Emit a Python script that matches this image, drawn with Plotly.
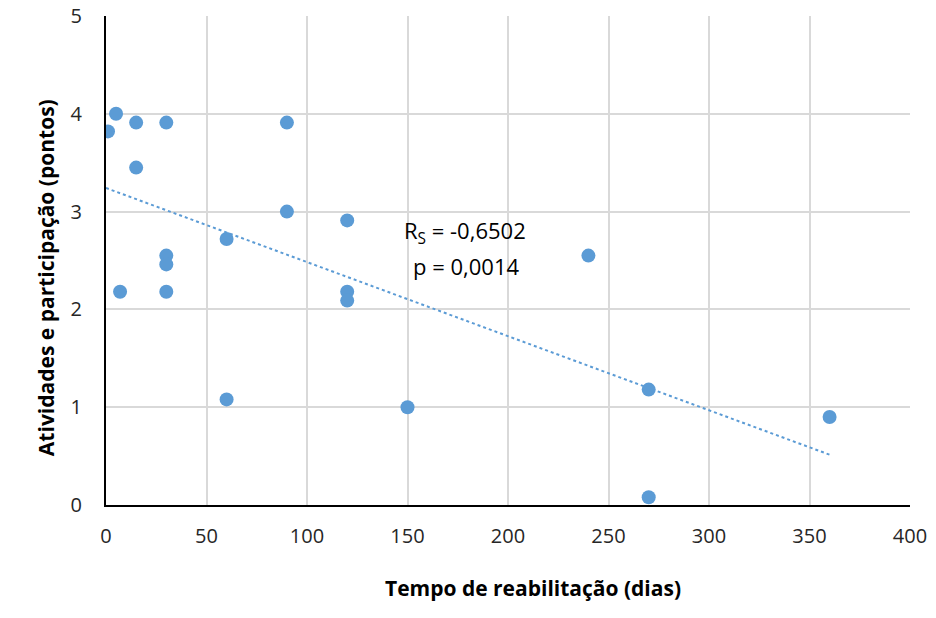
import numpy as np
import plotly.graph_objects as go

dias = [1, 5, 15, 30, 90, 15, 30, 30, 30, 7, 60, 90, 120, 120, 120, 60, 150, 240, 270, 270, 360]
pontos = [3.82, 4.0, 3.91, 3.91, 3.91, 3.45, 2.55, 2.46, 2.18, 2.18, 2.72, 3.0, 2.91, 2.18, 2.09, 1.08, 1.0, 2.55, 1.18, 0.08, 0.9]

x_title = "Tempo de reabilitação (dias)"
y_title = "Atividades e participação (pontos)"
stat_lines = ["R<sub>S</sub> = -0,6502", "p = 0,0014"]

slope, intercept = np.polyfit(dias, pontos, 1)
tx = [0, 360]
ty = [intercept + slope * v for v in tx]

font = "Open Sans, Liberation Sans, sans-serif"

fig = go.Figure()
fig.add_trace(go.Scatter(x=tx, y=ty, mode="lines",
                         line=dict(color="#5b9bd5", width=2, dash="dot"),
                         showlegend=False, hoverinfo="skip"))
fig.add_trace(go.Scatter(x=dias, y=pontos, mode="markers",
                         marker=dict(color="#5b9bd5", size=14),
                         showlegend=False))

fig.add_annotation(x=178.5, y=2.79, xref="x", yref="y", text=stat_lines[0],
                   showarrow=False, font=dict(family=font, size=22, color="#000000"))
fig.add_annotation(x=179, y=2.44, xref="x", yref="y", text=stat_lines[1],
                   showarrow=False, font=dict(family=font, size=22, color="#000000"))

fig.add_annotation(x=0.531, y=(505 - 604) / 489.0, xref="paper", yref="paper",
                   text="<b>" + x_title + "</b>", showarrow=False,
                   font=dict(family=font, size=21, color="#000000"))
fig.add_annotation(x=-0.0945, y=0.464, xref="paper", yref="paper",
                   text="<b>" + y_title + "</b>", showarrow=False, textangle=-90,
                   font=dict(family=font, size=21, color="#000000"))

fig.update_layout(
    width=936, height=618,
    margin=dict(l=106, r=26, t=16, b=113, autoexpand=False),
    paper_bgcolor="white", plot_bgcolor="white",
    font=dict(family=font, color="#000000"),
    xaxis=dict(range=[0, 400], dtick=50, tick0=0, automargin=False,
               showgrid=True, gridcolor="#d9d9d9", gridwidth=2,
               showline=True, linecolor="black", linewidth=2,
               zeroline=False, ticks="", ticklabelstandoff=12,
               tickfont=dict(size=20, family=font, color="#262626")),
    yaxis=dict(range=[0, 5], dtick=1, tick0=0, automargin=False,
               showgrid=True, gridcolor="#d9d9d9", gridwidth=2,
               showline=True, linecolor="black", linewidth=2,
               zeroline=False, ticks="", ticklabelstandoff=18,
               tickfont=dict(size=20, family=font, color="#262626")),
)

fig.write_html("out.html")
